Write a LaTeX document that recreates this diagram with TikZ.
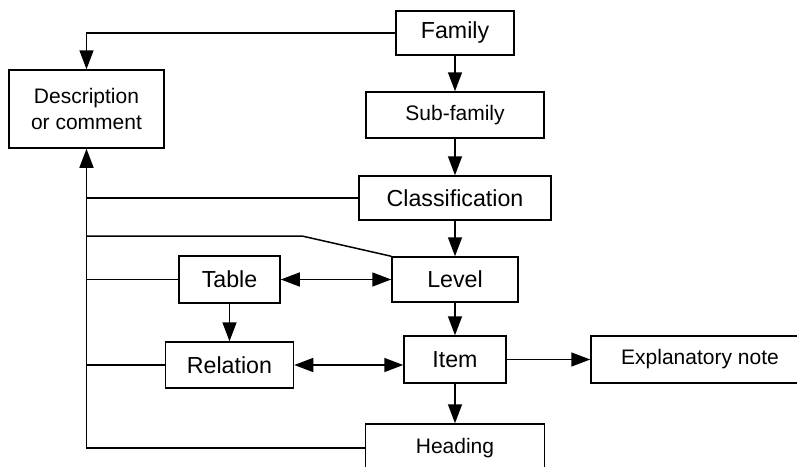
\documentclass[tikz,border=0pt]{standalone}
\usepackage{fontspec}
\setmainfont{Liberation Sans}
\usetikzlibrary{arrows.meta}

\begin{document}
\begin{tikzpicture}[x=0.5pt, y=-0.5pt, line width=0.75pt, >={Triangle[length=9.5pt, width=7pt]},
font=\fontsize{11.6}{14}\selectfont,
block/.style={rectangle, draw, inner sep=0pt, minimum height=23pt},
smallblock/.style={block, font=\fontsize{10.5}{13}\selectfont},]
 \useasboundingbox (0,0) rectangle (797,466);
 \clip (0,0) rectangle (797,466);
 \node[block, minimum width=59pt, minimum height=22pt] (family) at (455,33) {Family};
 \node[smallblock, below of=family, node distance=41pt, minimum width=89pt] (subfamily) {Sub-family};
 \node[block, below of=subfamily, node distance=41.5pt, minimum width=96pt, minimum height=22pt] (class) {Classification};
 \node[block, below of=class, node distance=40.75pt, minimum width=63pt, minimum height=22.5pt] (level) {Level};
 \node[block, below of=level, node distance=40pt, minimum width=51pt, minimum height=23.5pt] (item) {Item};
 \node[smallblock, below of=item, node distance=44.25pt, minimum width=89.5pt, minimum height=24pt] (heading) {Heading};
 \node[block, left of=level, node distance=112.75pt, minimum width=50.5pt, minimum height=23.5pt] (table) {Table};
 \node[block, below of=table, node distance=42.75pt, minimum width=64pt] (relation) {Relation};
 \node[smallblock, right of=item, node distance=122.5pt, minimum width=109pt, minimum height=23.5pt] (note) {Explanatory note};
 \node[smallblock, align=center, minimum width=77.5pt, minimum height=39pt] (desc) at (86.5,109) {Description\\or comment};
 \coordinate (kink) at (302,236);

 \draw[->] (family) -- (subfamily);
 \draw[->] (subfamily) -- (class);
 \draw[->] (class) -- (level);
 \draw[->] (level) -- (item);
 \draw[->] (item) -- (heading);
 \draw[->] (table) -- (relation);
 \draw[<->] (table) -- (level);
 \draw[<->] (relation) -- (relation -| item.west);
 \draw[->] (item) -- (note);
 \draw[->] (family) -| (desc);
 \draw[->] (heading) -| (desc);
 \draw (class) -- (class -| desc);
 \draw (level.north west) -- (kink) -- (kink -| desc);
 \draw (table) -- (table -| desc);
 \draw (relation) -- (relation -| desc);
\end{tikzpicture}
\end{document}
